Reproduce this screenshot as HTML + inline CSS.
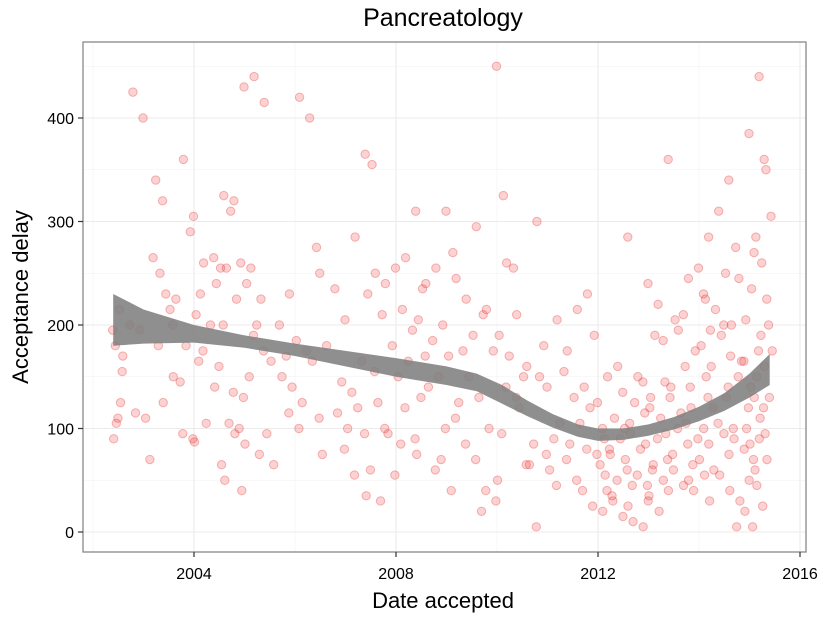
<!DOCTYPE html>
<html><head><meta charset="utf-8"><style>
body{margin:0;background:#fff;font-family:"Liberation Sans",sans-serif}
</style></head><body>
<svg id="chart" width="825" height="618" xmlns="http://www.w3.org/2000/svg" font-family="Liberation Sans, sans-serif">
<rect width="825" height="618" fill="#fff"/>
<text x="443" y="26" font-size="25" text-anchor="middle">Pancreatology</text>
<rect x="83" y="42" width="723" height="510" fill="#fff"/>
<g id="grid"></g><g id="pts"></g><g id="band"></g>
<rect x="83" y="42" width="723" height="510" fill="none" stroke="#7f7f7f" stroke-width="1.2"/>
<g id="axes"></g>
<text x="443" y="608" font-size="22" text-anchor="middle">Date accepted</text>
<text transform="translate(28,297) rotate(-90)" font-size="22" text-anchor="middle">Acceptance delay</text>
</svg>
<script>
const xTicks=[2004,2008,2012,2016];
const yTicks=[0,100,200,300,400];
const groupDates=[2002.5,2002.7,2002.9,2003.1,2003.3,2003.5,2003.7,2003.9,2004.1,2004.3,2004.5,2004.7,2004.9,2005.1,2005.3,2005.5,2005.8,2006.0,2006.2,2006.4,2006.6,2006.9,2007.1,2007.3,2007.5,2007.7,2007.9,2008.1,2008.3,2008.5,2008.7,2008.9,2009.1,2009.3,2009.5,2009.7,2009.9,2010.1,2010.3,2010.5,2010.7,2010.9,2011.1,2011.3,2011.5,2011.7,2011.9,2012.1,2012.3,2012.5,2012.7,2012.9,2013.1,2013.3,2013.5,2013.7,2013.9,2014.1,2014.3,2014.5,2014.7,2014.9,2015.1,2015.3,2015.4,2012.2,2012.6,2013.0,2013.4,2013.8,2014.2,2014.6,2015.0,2015.2];
const groupDelays=[[195,215,180,155,110,90,125,105],[170,200],[425,195,115],[400,70,110],[265,250,340,320,180],[125,215,230,200],[150,145,225,95],[360,290,180,90],[305,230,210,175,165,87],[260,200,105],[265,255,240,200,160,140,65],[325,310,255,135,105,50],[320,260,225,130,100,95,40],[430,255,240,190,150,85],[440,225,200,175,75],[415,165,95,65],[200,170,150,115],[230,185,140,100],[420,175,125],[400,275,165,110],[250,180,75],[235,145,115,80],[205,135,100,55],[285,165,120,95],[365,355,230,155,60,35],[250,210,125,100,30],[240,180,95,55],[255,215,150,120,85],[265,195,165,90],[310,235,205,170,130,75],[240,185,140,60],[255,200,150,100,70],[310,270,170,110,40],[245,175,125,85],[225,190,150,70],[295,210,130,40,20],[215,175,100,30],[450,325,190,140,95,50],[260,255,170,130],[210,150,120,65],[160,85,65,5],[300,180,150,75],[140,90,60,45],[205,155,105,70],[175,130,85,50],[215,140,105,80,40],[230,190,120,75,25],[125,90,65,40,20],[150,110,75,50,30],[160,100,90,60,15],[285,125,95,55,10],[150,115,80,45,5],[240,190,130,90,65,35],[220,145,110,70,50,20],[360,205,140,100,60],[195,160,115,85,45],[245,175,120,90,40],[255,225,180,130,100,70],[285,215,160,105,60,30],[310,250,190,140,95,55],[340,275,200,150,90,40,5],[245,205,165,120,80,30],[385,285,235,175,130,85,45,5],[440,350,260,200,160,110,70,25],[360,305,225,175,130,95],[100,80,55,35],[135,105,70,45,25],[145,120,85,60,30],[185,130,95,75,40],[210,140,105,65,50],[230,195,150,120,85,55],[200,170,130,100,75],[165,140,100,70,50,20],[270,190,150,120,90,60]];
const smoothX=[2002.4,2003,2004,2005,2006,2007,2008,2009,2009.6,2010.1,2010.6,2011.1,2011.6,2012,2012.5,2013,2013.5,2014,2014.5,2015,2015.4];
const smoothLo=[180,182,183,178,170,160,150,142,136,124,112,101,92,88,89,93,99,107,117,130,142];
const smoothHi=[230,215,200,190,182,175,168,160,153,142,127,114,104,100,100,104,111,121,134,153,172];
const NS="http://www.w3.org/2000/svg";
const X=d=>194+(d-2004)*(800-194)/12;
const Y=v=>532-v*(532-118)/400;
function mk(t,a,p){const e=document.createElementNS(NS,t);for(const k in a)e.setAttribute(k,a[k]);p.appendChild(e);return e;}
const grid=document.getElementById('grid'),axes=document.getElementById('axes');
[2002,2006,2010,2014].forEach(d=>{const l=mk('line',{x1:X(d),x2:X(d),y1:42,y2:552,stroke:'#f2f2f2','stroke-width':0.6},grid);});
[50,150,250,350,450].forEach(v=>{const l=mk('line',{x1:83,x2:806,y1:Y(v),y2:Y(v),stroke:'#f2f2f2','stroke-width':0.6},grid);});
xTicks.forEach(d=>{const l=mk('line',{x1:X(d),x2:X(d),y1:42,y2:552,stroke:'#ebebeb','stroke-width':1.1},grid);
const t=mk('line',{x1:X(d),x2:X(d),y1:552,y2:557,stroke:'#333','stroke-width':1.2},axes);
const tx=mk('text',{x:X(d),y:579,'font-size':16,'text-anchor':'middle'},axes);tx.textContent=d;});
yTicks.forEach(v=>{const l=mk('line',{x1:83,x2:806,y1:Y(v),y2:Y(v),stroke:'#ebebeb','stroke-width':1.1},grid);
const t=mk('line',{x1:78,x2:83,y1:Y(v),y2:Y(v),stroke:'#333','stroke-width':1.2},axes);
const tx=mk('text',{x:74,y:Y(v)+6,'font-size':16,'text-anchor':'end'},axes);tx.textContent=v;});
const pts=document.getElementById('pts');
groupDates.forEach((d,i)=>{groupDelays[i].forEach((v,j)=>{const off=(((j*0.618)%1)-0.5)*0.22;const c=mk('circle',{cx:X(Math.min(2015.45,d+off)),cy:Y(v),r:4.2,fill:'rgba(240,50,50,0.22)',stroke:'rgba(225,40,40,0.32)','stroke-width':1},pts);});});
let dp='M'+smoothX.map((d,i)=>X(d)+','+Y(smoothHi[i])).join('L');
for(let i=smoothX.length-1;i>=0;i--)dp+='L'+X(smoothX[i])+','+Y(smoothLo[i]);
const b=mk('path',{d:dp+'Z',fill:'#7f7f7f','fill-opacity':0.88},document.getElementById('band'));


</script>
</body></html>
